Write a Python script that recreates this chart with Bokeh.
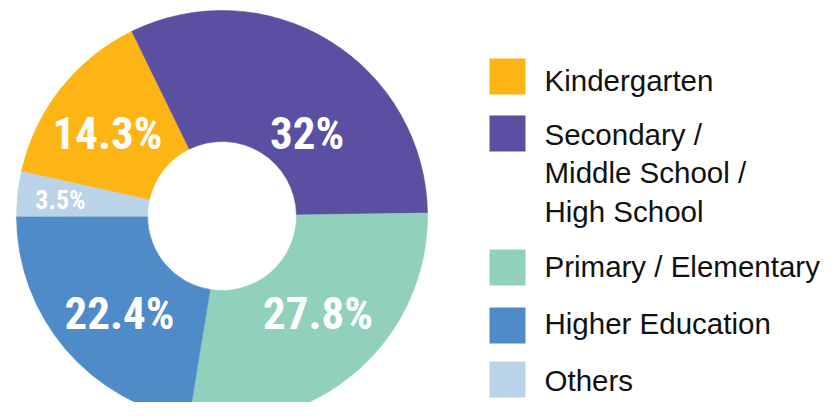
import math
from bokeh.plotting import figure
from bokeh.models import Range1d, ColumnDataSource
from bokeh.core.properties import value
from bokeh.embed import file_html
from bokeh.resources import INLINE

# ---- data ----
categories = ["Kindergarten", "Secondary / Middle School / High School",
              "Primary / Elementary", "Higher Education", "Others"]
values = [14.3, 32.0, 27.8, 22.4, 3.5]
pct_labels = ["14.3%", "32%", "27.8%", "22.4%", "3.5%"]
legend_lines = [["Kindergarten"],
                ["Secondary /", "Middle School /", "High School"],
                ["Primary / Elementary"],
                ["Higher Education"],
                ["Others"]]
colors = ["#FDB515", "#5A4FA0", "#91D0BC", "#4F8AC9", "#BAD3E8"]

# ---- layout (reference pixel coords) ----
W, H = 820, 402
BASE_FIX = 0.32  # em correction for alphabetic baseline placement
def X(x): return x
def Y(y): return H - y

cx, cy = X(221.5), Y(215.5)
r_out, r_in = 205.5, 74.5
start_compass = -77.5  # degrees, clockwise from 12 o'clock

total = sum(values)
starts, ends = [], []
c = start_compass
for v in values:
    a = c
    b = c + v / total * 360.0
    starts.append(math.radians(90 - b))
    ends.append(math.radians(90 - a))
    c = b

p = figure(width=W, height=H, output_backend="svg", toolbar_location=None,
           x_range=Range1d(0, W), y_range=Range1d(0, H),
           x_axis_location=None, y_axis_location=None, min_border=0)
p.grid.visible = False
p.outline_line_color = None
p.background_fill_color = "white"
p.border_fill_color = "white"

src = ColumnDataSource(dict(start=starts, end=ends, color=colors))
p.annular_wedge(x=cx, y=cy, inner_radius=r_in, outer_radius=r_out,
                start_angle="start", end_angle="end", direction="anticlock",
                fill_color="color", line_color="color", line_width=0.6,
                source=src)

# percentage labels
label_pos = [(107, 147), (306.5, 147), (317.5, 327), (119, 327), (60, 208)]
label_size = [45, 45, 45, 45, 26]
cond_font = value("Roboto Condensed")
for (lx, ly), t, s in zip(label_pos, pct_labels, label_size):
    p.text(x=[X(lx)], y=[Y(ly - BASE_FIX * s)], text=[t], text_align="center",
           text_baseline="alphabetic", text_color="white",
           text_font=cond_font, text_font_style="bold", text_font_size=f"{s}px")

# legend
sq_centers = [76, 133, 267, 325, 379]
first_baselines = [89, 143, 275, 332, 389]
line_gap = 38.5
leg_size = 29.5
p.rect(x=[X(507)] * len(colors), y=[Y(v) for v in sq_centers],
       width=36, height=36, fill_color=colors, line_color=None)
for lines, b in zip(legend_lines, first_baselines):
    for i, ln in enumerate(lines):
        p.text(x=[X(544)], y=[Y(b + i * line_gap - BASE_FIX * leg_size)], text=[ln],
               text_align="left", text_baseline="alphabetic",
               text_color="#111111", text_font=value("Liberation Sans"),
               text_font_size=f"{leg_size}px")

open("out.html", "w").write(file_html(p, INLINE))
